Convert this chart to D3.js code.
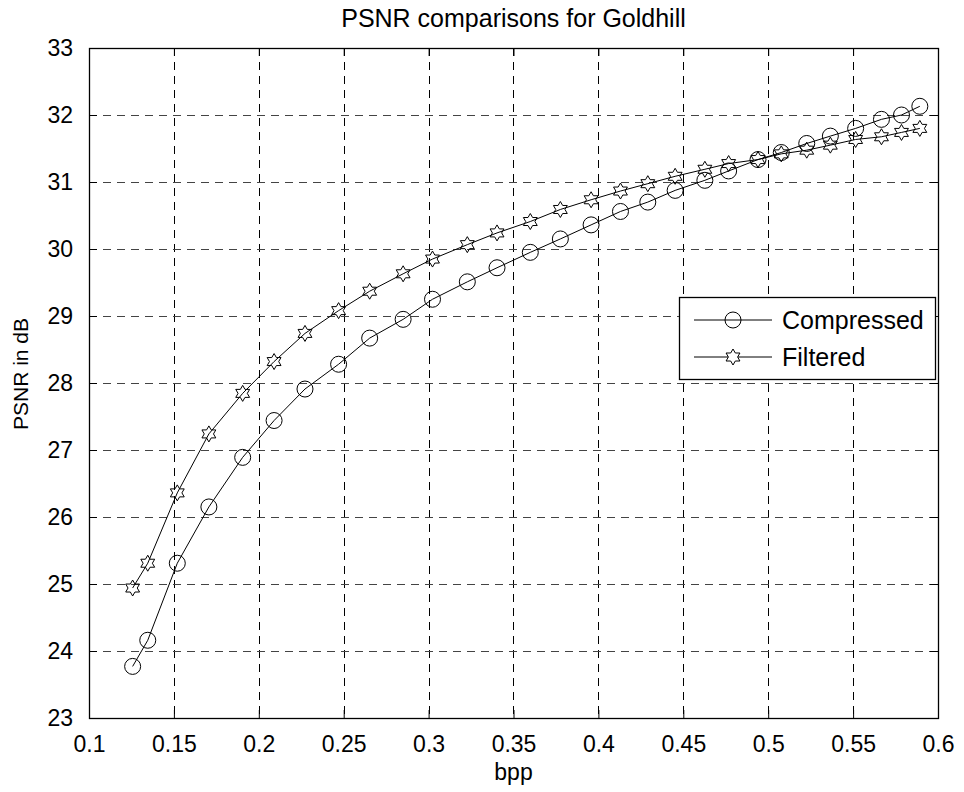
<!DOCTYPE html>
<html>
<head>
<meta charset="utf-8">
<script src="https://cdn.jsdelivr.net/npm/d3@7"></script>
<style>
  body { margin: 0; background: #fff; }
  svg { display: block; font-family: 'Liberation Sans', Arial, sans-serif; }
</style>
</head>
<body>
<svg id="chart" width="964" height="792"></svg>
<script>
// values
const bpp = [0.1257, 0.1346, 0.152, 0.1706, 0.1905, 0.209, 0.2272, 0.247, 0.2653, 0.285,
  0.3023, 0.3228, 0.3403, 0.3599, 0.3776, 0.3957, 0.413, 0.4291, 0.4452, 0.4627,
  0.4767, 0.494, 0.5077, 0.5227, 0.5366, 0.5515, 0.5667, 0.5785, 0.5893];
const compressed = [23.77, 24.16, 25.31, 26.15, 26.89, 27.44, 27.91, 28.28, 28.67, 28.95,
  29.25, 29.51, 29.72, 29.95, 30.15, 30.36, 30.56, 30.7, 30.875, 31.025,
  31.165, 31.335, 31.44, 31.575, 31.685, 31.8, 31.935, 32.0, 32.13];
const filtered = [24.94, 25.31, 26.36, 27.24, 27.845, 28.32, 28.74, 29.08, 29.37, 29.63,
  29.85, 30.065, 30.24, 30.41, 30.59, 30.735, 30.865, 30.975, 31.085, 31.19,
  31.275, 31.335, 31.42, 31.475, 31.55, 31.635, 31.675, 31.74, 31.8];
const xTicks = [0.1, 0.15, 0.2, 0.25, 0.3, 0.35, 0.4, 0.45, 0.5, 0.55, 0.6];
const yTicks = [23, 24, 25, 26, 27, 28, 29, 30, 31, 32, 33];
const seriesNames = ['Compressed', 'Filtered'];

const margin = { top: 48, right: 26, bottom: 74, left: 89 };
const width = 964 - margin.left - margin.right;
const height = 792 - margin.top - margin.bottom;

const svg = d3.select('#chart');
const g = svg.append('g').attr('transform', `translate(${margin.left},${margin.top})`);

const x = d3.scaleLinear().domain([0.1, 0.6]).range([0, width]);
const y = d3.scaleLinear().domain([23, 33]).range([height, 0]);

// hexagram marker, points up/down like matlab 'h'
const hexagram = (R) => {
  const pts = [];
  for (let i = 0; i < 12; i++) {
    const r = i % 2 === 0 ? R : R / Math.sqrt(3);
    const a = -Math.PI / 2 + (i * Math.PI) / 6;
    pts.push([r * Math.cos(a), r * Math.sin(a)]);
  }
  return 'M' + pts.map((p) => p.join(',')).join('L') + 'Z';
};
const starPath = hexagram(8);

// grid
g.append('g')
  .selectAll('line')
  .data(xTicks.slice(1, -1))
  .enter()
  .append('line')
  .attr('x1', (d) => Math.round(x(d)) + 0.5)
  .attr('x2', (d) => Math.round(x(d)) + 0.5)
  .attr('y1', 0)
  .attr('y2', height)
  .attr('stroke', '#000')
  .attr('stroke-dasharray', '8,6');

g.append('g')
  .selectAll('line')
  .data(yTicks.slice(1, -1))
  .enter()
  .append('line')
  .attr('y1', (d) => Math.round(y(d)) + 0.5)
  .attr('y2', (d) => Math.round(y(d)) + 0.5)
  .attr('x1', 0)
  .attr('x2', width)
  .attr('stroke', '#444')
  .attr('stroke-dasharray', '8,6');

// axes with inward ticks, labels only bottom/left
const fmt = (d) => String(d);
const xAxis = g.append('g')
  .attr('transform', `translate(0,${height})`)
  .call(d3.axisBottom(x).tickValues(xTicks).tickFormat(fmt).tickSizeInner(-8).tickSizeOuter(0).tickPadding(18));
const yAxis = g.append('g')
  .call(d3.axisLeft(y).tickValues(yTicks).tickFormat(fmt).tickSizeInner(-8).tickSizeOuter(0).tickPadding(16));
g.append('g')
  .call(d3.axisTop(x).tickValues(xTicks).tickFormat('').tickSizeInner(-8).tickSizeOuter(0));
g.append('g')
  .attr('transform', `translate(${width},0)`)
  .call(d3.axisRight(y).tickValues(yTicks).tickFormat('').tickSizeInner(-8).tickSizeOuter(0));

svg.selectAll('.domain').remove();
svg.selectAll('.tick line').attr('stroke', '#000');
xAxis.selectAll('text').attr('font-size', 23).attr('fill', '#000').attr('font-family', null);
yAxis.selectAll('text').attr('font-size', 23).attr('fill', '#000').attr('font-family', null);
xAxis.attr('font-family', null);
yAxis.attr('font-family', null);

// frame
g.append('rect')
  .attr('x', 0.5)
  .attr('y', 0.5)
  .attr('width', width)
  .attr('height', height)
  .attr('fill', 'none')
  .attr('stroke', '#000')
  .attr('stroke-width', 1.3);

// series
const line = d3.line()
  .x((d) => x(d[0]))
  .y((d) => y(d[1]))
  .curve(d3.curveLinear);

const compData = bpp.map((b, i) => [b, compressed[i]]);
const filtData = bpp.map((b, i) => [b, filtered[i]]);

g.append('path').datum(compData).attr('d', line).attr('fill', 'none').attr('stroke', '#000').attr('stroke-width', 1);
g.append('path').datum(filtData).attr('d', line).attr('fill', 'none').attr('stroke', '#000').attr('stroke-width', 1);

g.append('g')
  .selectAll('circle')
  .data(compData)
  .enter()
  .append('circle')
  .attr('cx', (d) => x(d[0]))
  .attr('cy', (d) => y(d[1]))
  .attr('r', 8)
  .attr('fill', 'none')
  .attr('stroke', '#000')
  .attr('stroke-width', 1);

g.append('g')
  .selectAll('path')
  .data(filtData)
  .enter()
  .append('path')
  .attr('d', starPath)
  .attr('transform', (d) => `translate(${x(d[0])},${y(d[1])})`)
  .attr('fill', 'none')
  .attr('stroke', '#000')
  .attr('stroke-width', 1);

// legend
const legend = svg.append('g').attr('transform', 'translate(679,297)');
legend.append('rect')
  .attr('x', 0.5)
  .attr('y', 0.5)
  .attr('width', 256)
  .attr('height', 82)
  .attr('fill', '#fff')
  .attr('stroke', '#000')
  .attr('stroke-width', 1.3);

const rows = legend.selectAll('.row')
  .data(seriesNames)
  .enter()
  .append('g')
  .attr('class', 'row')
  .attr('transform', (d, i) => `translate(0,${23 + i * 37})`);
rows.append('line')
  .attr('x1', 15)
  .attr('x2', 93)
  .attr('stroke', '#000');
rows.filter((d, i) => i === 0)
  .append('circle')
  .attr('cx', 54)
  .attr('r', 8)
  .attr('fill', 'none')
  .attr('stroke', '#000');
rows.filter((d, i) => i === 1)
  .append('path')
  .attr('d', starPath)
  .attr('transform', 'translate(54,0)')
  .attr('fill', '#fff')
  .attr('stroke', '#000');
rows.append('text')
  .attr('x', 103)
  .attr('y', 9)
  .attr('font-size', 25)
  .text((d) => d);

// titles
svg.append('text')
  .attr('x', margin.left + width / 2)
  .attr('y', 27)
  .attr('text-anchor', 'middle')
  .attr('font-size', 25)
  .text('PSNR comparisons for Goldhill');

svg.append('text')
  .attr('x', margin.left + width / 2)
  .attr('y', 780)
  .attr('text-anchor', 'middle')
  .attr('font-size', 23)
  .text('bpp');

svg.append('text')
  .attr('transform', 'translate(28,374) rotate(-90)')
  .attr('text-anchor', 'middle')
  .attr('font-size', 21)
  .text('PSNR in dB');
</script>
</body>
</html>
